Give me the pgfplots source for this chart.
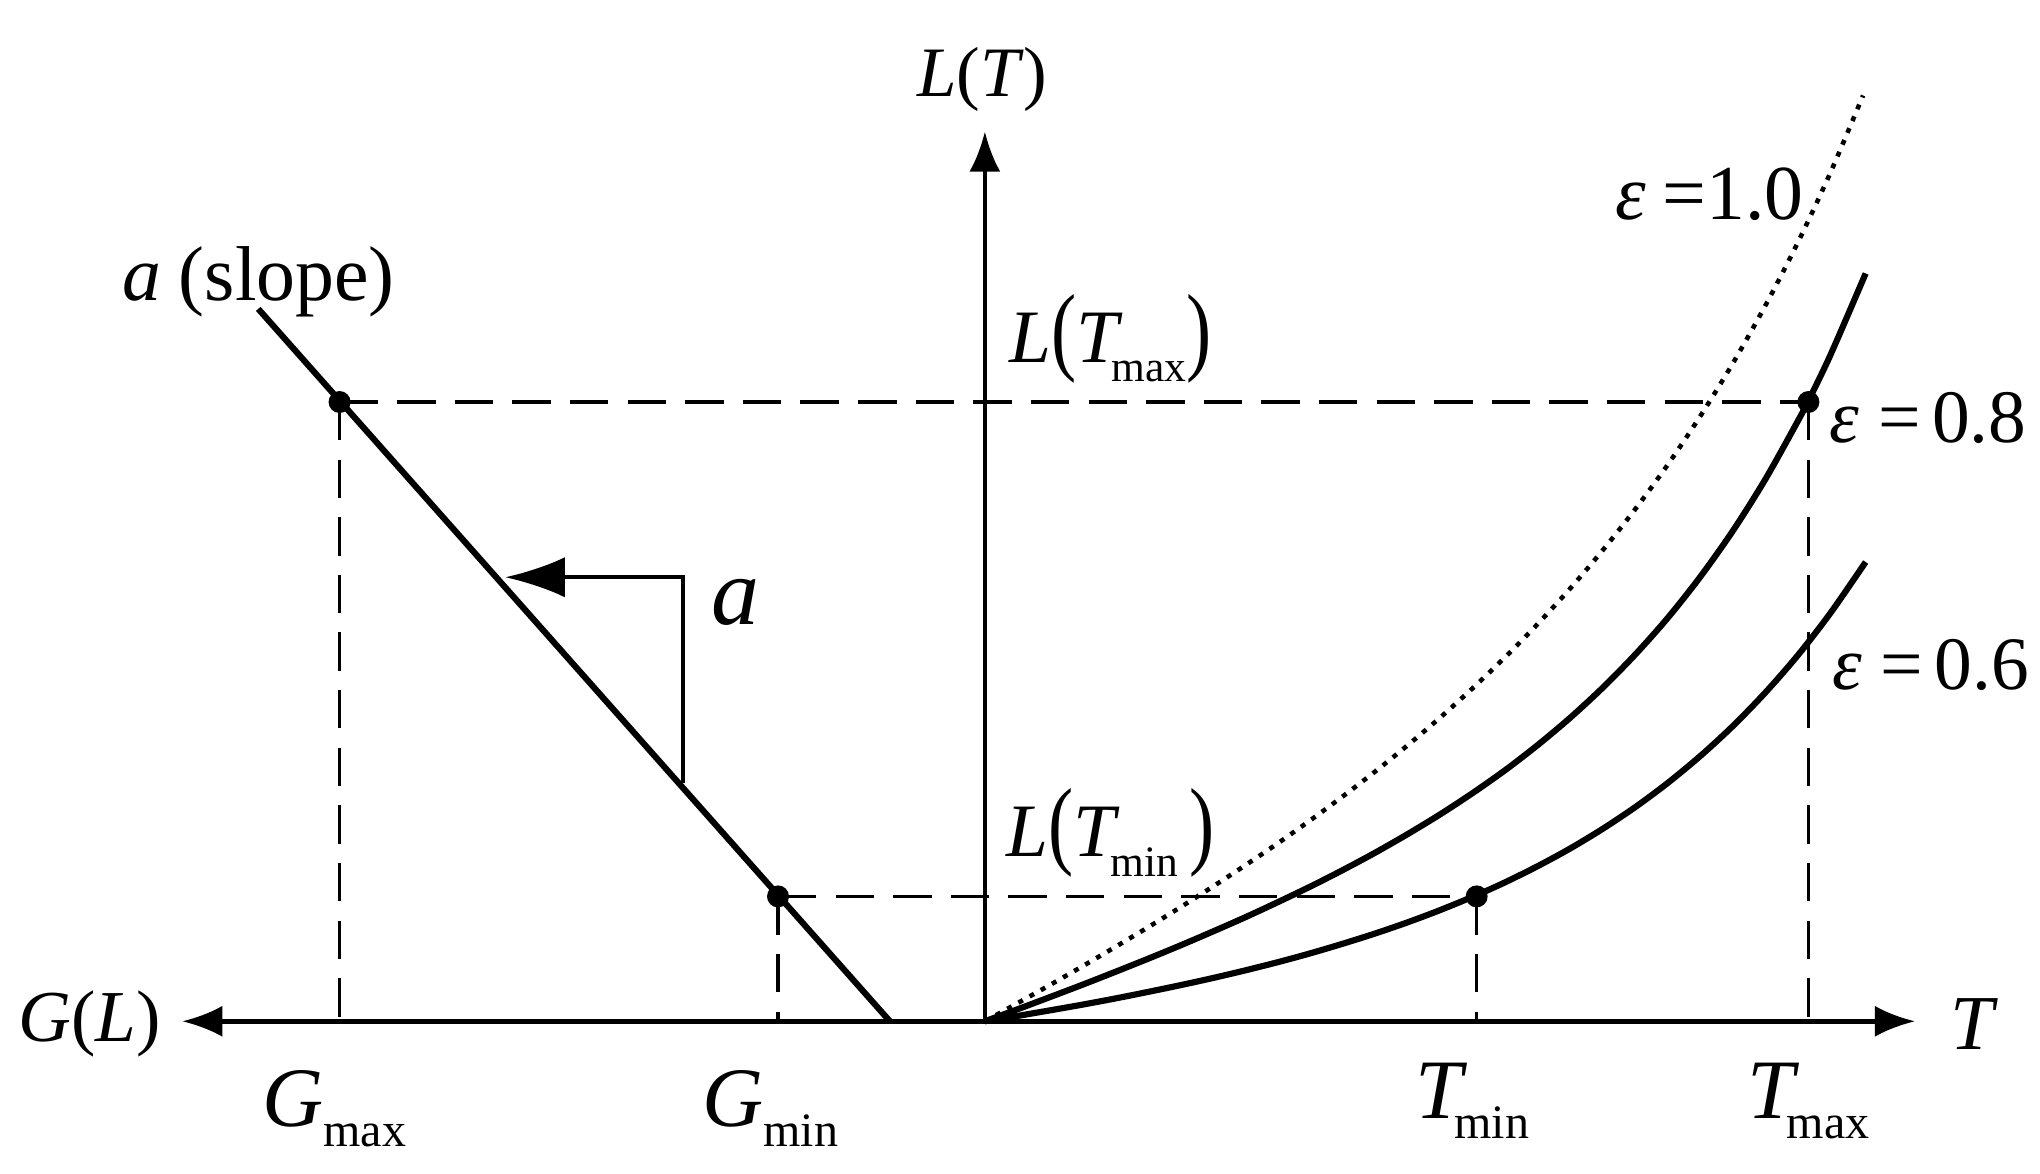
\documentclass[border=0pt]{standalone}
\usepackage{fontspec}
\setmainfont{Liberation Serif}
\usepackage{graphicx}
\usepackage{pgfplots}
\pgfplotsset{compat=1.18}
\usetikzlibrary{arrows.meta}
\newcommand{\bp}[1]{\scalebox{1}[1.3]{#1}}
\begin{document}
\begin{tikzpicture}
\begin{axis}[
  scale only axis, width=156.8mm, height=90.2mm,
  xmin=-757, xmax=811, ymin=-117, ymax=785,
  hide axis, clip=false,
  every node/.style={inner sep=0pt, outer sep=0pt},
]
\coordinate (BL) at (rel axis cs:0,0);
\coordinate (TR) at (rel axis cs:1,1);
% axes
\addplot[line width=1pt, {Latex[length=3.1mm,width=2.4mm]}-{Latex[length=3.1mm,width=2.4mm]}] coordinates {(-617,0) (715,0)};
\addplot[line width=1pt, -{Latex[length=3.1mm,width=2.4mm]}] coordinates {(0,0) (0,684)};
% dashed guides
\addplot[line width=0.72pt, dash pattern=on 8.4pt off 4.2pt] coordinates {(-496,476) (633,476)};
\addplot[line width=0.72pt, dash pattern=on 8.4pt off 4.2pt] coordinates {(-159,96) (378,96)};
\addplot[line width=0.72pt, dash pattern=on 8.4pt off 4.2pt] coordinates {(-496,476) (-496,0)};
\addplot[line width=0.72pt, dash pattern=on 8.4pt off 4.2pt] coordinates {(-159,96) (-159,0)};
\addplot[line width=0.72pt, dash pattern=on 8.4pt off 4.2pt] coordinates {(378,96) (378,0)};
\addplot[line width=0.72pt, dash pattern=on 8.4pt off 4.2pt] coordinates {(633,476) (633,0)};
% slope line
\addplot[line width=1.35pt] coordinates {(-558.5,547.6) (-73,0)};
% slope triangle
\addplot[line width=0.85pt, -{Latex[length=4.6mm,width=3.1mm]}] coordinates {(-232.3,183) (-232.3,341.3) (-368.8,341.3)};
% epsilon = 1.0 (dotted)
\addplot[smooth, line width=1pt, dash pattern=on 1.1pt off 1.7pt] coordinates {
(0,0)(25,13.9)(50,27.9)(75,42.3)(100,57)(125,72)(150,87.5)(175,103.4)(200,119.8)(225,136.7)(250,154.4)(275,172.8)(300,192)(325,212.2)(350,233.5)(375,256.1)(400,280)(425,305.5)(450,332.8)(475,362.2)(500,393.8)(525,428)(550,465.3)(575,505.9)(600,550.3)(625,598.9)(650,652.5)(675,711.6)};
% epsilon = 0.8
\addplot[smooth, line width=1.35pt] coordinates {
(0,0)(25,9.2)(50,18.6)(75,28.1)(100,37.9)(125,47.9)(150,58.2)(175,68.9)(200,79.9)(225,91.5)(250,103.5)(275,116.2)(300,129.6)(325,143.9)(350,159.1)(375,175.5)(400,193.1)(425,212.4)(450,233.4)(475,256.5)(500,282)(525,310.2)(550,341.8)(575,377.1)(600,416.8)(625,461.6)(633,477)(650,512.3)(677,574.8)};
% epsilon = 0.6
\addplot[smooth, line width=1.35pt] coordinates {
(0,0)(25,4.1)(50,8.4)(75,12.8)(100,17.5)(125,22.5)(150,27.7)(175,33.2)(200,39.1)(225,45.4)(250,52.2)(275,59.6)(300,67.5)(325,76.1)(350,85.5)(378,97)(400,106.9)(425,119.3)(450,132.9)(475,148)(500,164.7)(525,183.3)(550,204)(575,227)(600,252.8)(625,281.5)(650,313.9)(677,353)};
% points
\addplot[only marks, mark=*, mark size=2.2pt, black] coordinates {(-496,476) (-159,96) (378,96) (633,476)};
% labels
\node[anchor=base] at (axis cs:-2,711) {\fontsize{15.5}{18}\selectfont\textit{L}(\textit{T})};
\node[anchor=base] at (axis cs:-558,554) {\fontsize{17}{20}\selectfont\textit{a}\hspace{0.22em}(slope)};
\node[anchor=base] at (axis cs:96.5,506) {\fontsize{16.5}{20}\selectfont\textit{L}\bp{(}\textit{T}\kern-0.15em\raisebox{-4pt}{\fontsize{9.5}{11}\selectfont max}\bp{)}};
\node[anchor=base] at (axis cs:96.5,126.5) {\fontsize{16.5}{20}\selectfont\textit{L}\bp{(}\textit{T}\kern-0.12em\raisebox{-4.4pt}{\fontsize{9.5}{11}\selectfont min}\hspace{0.15em}\bp{)}};
\node[anchor=base west] at (axis cs:472,616) {\fontsize{17}{20}\selectfont\textit{ε}\hspace{0.22em}=1.0};
\node[anchor=base west] at (axis cs:637,445) {\fontsize{16.5}{20}\selectfont\textit{ε}\hspace{0.25em}=\hspace{0.15em}0.8};
\node[anchor=base west] at (axis cs:639,255) {\fontsize{16.5}{20}\selectfont\textit{ε}\hspace{0.25em}=\hspace{0.15em}0.6};
\node[anchor=base] at (axis cs:-192,305) {\fontsize{21}{24}\selectfont\textit{a}};
\node[anchor=base] at (axis cs:-688,-15.7) {\fontsize{16}{19}\selectfont\textit{G}(\textit{L})};
\node[anchor=base] at (axis cs:760.6,-22) {\fontsize{17}{20}\selectfont\textit{T}};
\node[anchor=base] at (axis cs:-500,-81) {\fontsize{18.5}{22}\selectfont\textit{G}\raisebox{-4.4pt}{\fontsize{10.5}{12}\selectfont max}};
\node[anchor=base] at (axis cs:-165,-81) {\fontsize{18.5}{22}\selectfont\textit{G}\raisebox{-4.4pt}{\fontsize{10.5}{12}\selectfont min}};
\node[anchor=base] at (axis cs:374.5,-75) {\fontsize{18.5}{22}\selectfont\textit{T}\kern-0.15em\raisebox{-4.4pt}{\fontsize{10.5}{12}\selectfont min}};
\node[anchor=base] at (axis cs:633,-75) {\fontsize{18.5}{22}\selectfont\textit{T}\kern-0.15em\raisebox{-4.4pt}{\fontsize{10.5}{12}\selectfont max}};
\end{axis}
\pgfresetboundingbox
\path[use as bounding box] (BL) rectangle (TR);
\end{tikzpicture}
\end{document}
